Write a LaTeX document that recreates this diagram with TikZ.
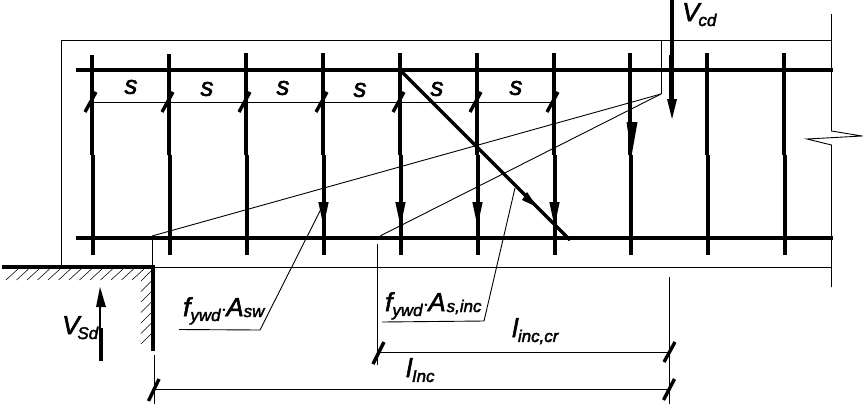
\documentclass[tikz,border=0pt]{standalone}
\usepackage{fontspec}
\setmainfont{Liberation Sans}[ItalicFeatures={FakeBold=2.2}]
\usetikzlibrary{calc}
\newcommand{\subt}[2][-5pt]{\raisebox{#1}{\fontsize{17}{17}\selectfont #2}}
\tikzset{
  thinl/.style={line width=0.9pt,black},
  rebar/.style={line width=4.2pt,black},
  stir/.style={line width=4.1pt,black},
  tick/.style={line width=3.4pt,black},
  heavy/.style={line width=3.4pt,black},
  hatch/.style={line width=0.55pt,black},
  head/.style={fill=black,draw=none},
  lbl/.style={inner sep=0pt,font=\fontsize{26}{26}\selectfont\itshape}
}
\begin{document}
\begin{tikzpicture}[x=1bp,y=-1bp]
\useasboundingbox (0,0) rectangle (863,404);
% beam outline
\draw[thinl] (61,267) -- (61,40) -- (831.5,40);
\draw[thinl] (154,267) -- (832,267);
\draw[thinl] (831.5,14) -- (831.5,131) -- (862,136) -- (807,139) -- (831.5,145) -- (831.5,287);
% stirrup spacing line
\coordinate (sL) at (92,102); \coordinate (sR) at (554,102);
\draw[thinl] (sL) -- (sR);
% stirrups
\foreach \x/\t in {92/55,169/54,246/53,323/53,400/53,477/53,554/53,630/53,707/53,784/53}{
  \draw[stir] (\x,\t) -- (\x,155);
  \draw[stir] (\x+0.6,155) -- (\x+0.6,254.5);
}
% rebars
\draw[rebar] (76,70) -- (833,70);
\draw[rebar] (76,238) -- (833,238);
% spacing ticks
\foreach \x in {92,169,246,323,400,477,554}{
  \draw[tick] (\x-7,112) -- (\x+4,92);
}
% stirrup arrow heads
\foreach \x in {323,400,477,554}{
  \fill[head] (\x-4.7,202) -- (\x+5.7,202) -- (\x+0.5,226) -- cycle;
}
\fill[head] (626.5,122) -- (637.5,122) -- (631.5,156) -- cycle;
% strut lines
\coordinate (apex) at (661,94);
\coordinate (s1) at (152,236);
\coordinate (s2) at (380,236);
\draw[thinl] (661,40) -- (apex);
\draw[thinl] (apex) -- (s1);
\draw[thinl] (apex) -- (s2);
\draw[thinl] (s1) -- (152,267);
% inclined bar
\coordinate (incA) at (400,70); \coordinate (incB) at (570,240);
\draw[heavy] (incA) -- (incB);
\fill[head] (537,207) -- (522,200) -- (527,192) -- cycle;
% support
\draw[rebar] (2,267) -- (155,267);
\draw[rebar] (153,267) -- (153,351);
\foreach \x in {6,16.5,27,37.5,48,58.5,69,79.5,90,100.5,111,121.5,132}{
  \draw[hatch] (\x,280) -- (\x+12,269);
}
\foreach \y in {281,291.5,302,312.5,323,333.5,344}{
  \draw[hatch] (141,\y) -- (152,\y-11);
}
% V arrows
\draw[stir] (672,0) -- (672,55);
\draw[stir] (671.5,55) -- (671.5,102);
\fill[head] (667,99) -- (677,99) -- (672,119) -- cycle;
\draw[line width=3pt] (100,328) -- (100,300);
\draw[stir] (101,361) -- (101,328);
\fill[head] (96,307) -- (106,307) -- (100,287) -- cycle;
% leaders
\coordinate (l1a) at (179,329.5); \coordinate (l1b) at (260,330); \coordinate (l1c) at (323,205);
\coordinate (l2a) at (382,322); \coordinate (l2b) at (484,321); \coordinate (l2c) at (515,188);
\draw[thinl] (l1a) -- (l1b) -- (l1c);
\draw[thinl] (l2a) -- (l2b) -- (l2c);
% dimensions
\coordinate (d1) at (154,389); \coordinate (d2) at (669,389);
\coordinate (d3) at (377,352); \coordinate (d4) at (669,352);
\draw[thinl] (154,355) -- (154,404);
\draw[thinl] (377,244) -- (377,365);
\draw[thinl] (669.5,277) -- (669.5,404);
\draw[thinl] (d1) -- (d2);
\draw[thinl] (d3) -- (d4);
\draw[tick] (148.5,401) -- (159,379);
\draw[tick] (373,364) -- (384,342);
\draw[tick] (664,362) -- (675,342);
\draw[tick] (663.5,400) -- (674.5,379);
% labels
\foreach \x/\y [count=\n] in {131/87,207/89,283/88,360/90,437/89,516/88}{
  \node[lbl] (s\n lab) at (\x,\y) {s};
}
\node[lbl,anchor=base west] (vcd) at (682,21) {V\kern-1pt\subt[-5pt]{cd}};
\node[lbl,anchor=base west] (vsd) at (62,334) {V\kern-2pt\subt[-5pt]{Sd}};
\node[lbl,anchor=base west] (fa) at (183,316) {f\subt{ywd}\kern0pt$\cdot$\kern-1ptA\subt[-1pt]{sw}};
\node[lbl,anchor=base west] (fb) at (385,311) {f\subt{ywd}\kern0pt$\cdot$\kern-1ptA\kern1pt\subt[-1pt]{s,inc}};
\node[lbl,anchor=base west] (lcr) at (512,337) {l\subt{inc,cr}};
\node[lbl,anchor=base west] (li) at (406,377) {l\subt{Inc}};
\end{tikzpicture}
\end{document}
